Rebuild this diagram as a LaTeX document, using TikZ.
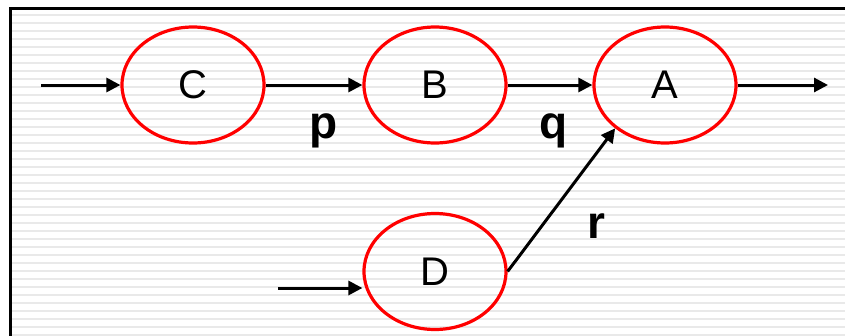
\documentclass[tikz,border=0pt]{standalone}
\usepackage{fontspec}
\setmainfont{Liberation Sans}
\usetikzlibrary{arrows.meta,shapes.geometric}

\begin{document}
\begin{tikzpicture}[x=1bp,y=-1bp]
    \tikzstyle{every node}+=[inner sep=0pt]
    \tikzstyle{state}=[ellipse, draw=red, line width=3.2bp, minimum width=142bp, minimum height=116bp, font=\fontsize{40bp}{40bp}\selectfont]
    \tikzstyle{flow}=[line width=3bp, -{Triangle[length=14bp,width=14bp]}]
    \tikzstyle{lbl}=[anchor=base, font=\fontsize{46bp}{46bp}\selectfont\bfseries]
    \useasboundingbox (0,0) rectangle (845,335);
        % ruled paper and frame
        \fill [white] (-2,-2) rectangle (848,338);
        \foreach \y in {14.7,22.7,...,335}
            \draw [gray!17, line width=2bp] (11,\y) -- (848,\y);
        \draw [line width=3bp] (10.5,338) -- (10.5,8) -- (848,8);
        % states
        \node [state] (C) at (193,85) {C};
        \node [state] (B) at (435,85) {B};
        \node [state] (A) at (665,85) {A};
        \node [state] (D) at (435,271.5) {D};
        \coordinate (cin) at (41,85);
        \coordinate (aout) at (828,85);
        \coordinate (din) at (278,288);
        % transitions
        \draw [flow] (cin) -- (C);
        \draw [flow] (C) -- (B);
        \draw [flow] (B) -- (A);
        \draw [flow] (A) -- (aout);
        \draw [flow] (din) -- (din -| D.west);
        \draw [flow] (D.east) -- (A.221);
        \node [lbl] (p) at (324,138) {p};
        \node [lbl] (q) at (554,138) {q};
        \node [lbl] (r) at (596,238) {r};
\end{tikzpicture}
\end{document}
